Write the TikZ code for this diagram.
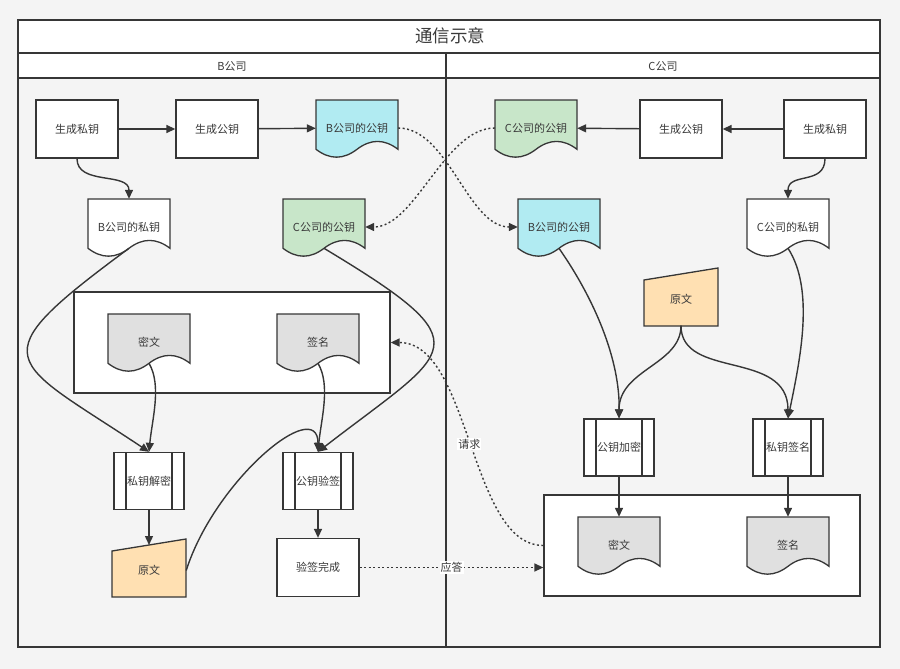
\documentclass[tikz,border=0pt]{standalone}
\usepackage{fontspec}
\setmainfont{Noto Sans CJK SC}
\usepackage{tikz}
\usetikzlibrary{arrows.meta}
\usepackage{xcolor}
\definecolor{bgc}{HTML}{F4F4F4}
\definecolor{linec}{HTML}{363636}
\definecolor{txtc}{HTML}{3A3A3A}
\definecolor{pubb}{HTML}{B1EBF2}
\definecolor{pubc}{HTML}{C8E6C9}
\definecolor{origc}{HTML}{FFE0B2}
\definecolor{secc}{HTML}{E0E0E0}

\tikzset{
  shapeline/.style={draw=linec, line width=1.3pt},
  lbl/.style={text=txtc, font=\fontsize{11}{13}\selectfont},
  box/.style={shapeline, lbl, fill=white, minimum width=82pt, minimum height=58pt},
  docbox/.style={lbl, minimum width=82pt, minimum height=56pt},
  process/.style={shapeline, lbl, fill=white, inner sep=0pt,
    minimum width=70pt, minimum height=57pt,
    path picture={\draw[draw=linec, line width=1.3pt]
      ([xshift=12pt]path picture bounding box.north west) -- ([xshift=12pt]path picture bounding box.south west)
      ([xshift=-12pt]path picture bounding box.north east) -- ([xshift=-12pt]path picture bounding box.south east);}},
  conn/.style={->, draw=linec, line width=1.4pt},
  msg/.style={conn, dash pattern=on 2pt off 2.5pt},
  msglbl/.style={lbl, fill=white, inner sep=1pt}
}

% document with wavy bottom: name, left, top, fill, text
\newcommand{\docnode}[5]{%
  \begin{scope}[shift={(#2,#3)}]
    \filldraw[shapeline, fill=#4] (0,0) -- (82,0) -- (82,49.3)
      .. controls (68.3,38.8) and (54.7,38.8) .. (41,49.3)
      .. controls (27.3,59.8) and (13.7,59.8) .. (0,49.3) -- cycle;
    \node[docbox] (#1) at (41,28) {#5};
    \coordinate (#1w) at (41,49.3);
  \end{scope}}

% manual input: name, left, top, text
\newcommand{\manualnode}[4]{%
  \begin{scope}[shift={(#2,#3)}]
    \filldraw[shapeline, fill=origc] (0,12) -- (74,0) -- (74,58) -- (0,58) -- cycle;
    \node[lbl, minimum width=74pt, minimum height=52pt] (#1) at (37,31.5) {#4};
    \coordinate (#1t) at (37,6);
  \end{scope}}

\begin{document}
\begin{tikzpicture}[x=1pt,y=-1pt,>={Triangle[length=9pt,width=8pt]}]
  \fill[bgc] (0,0) rectangle (900,669);
  \useasboundingbox (0,0) rectangle (900,669);
  %pool and lanes
  \filldraw[shapeline, fill=white] (18,20) rectangle (880,78);
  \draw[shapeline] (18,53) -- (880,53);
  \draw[shapeline, line width=1.8pt] (18,20) rectangle (880,647);
  \draw[shapeline, line width=1.6pt] (446,53) -- (446,647);
  \node[lbl, font=\fontsize{17.5}{20}\selectfont] (title) at (450,36) {通信示意};
  \node[lbl] (laneb) at (232,66) {B公司};
  \node[lbl] (lanec) at (663,66) {C公司};
  \node[box, minimum width=316pt, minimum height=101pt] (bset) at (232,342.5) {};
  \node[box, minimum width=316pt, minimum height=101pt] (cset) at (702,545.5) {};

  %B company
  \node[box] (bgenpriv) at (77,129) {生成私钥};
  \node[box] (bgenpub) at (217,129) {生成公钥};
  \docnode{bpub}{316}{100}{pubb}{B公司的公钥}
  \docnode{bpriv}{88}{199}{white}{B公司的私钥}
  \docnode{bcpub}{283}{199}{pubc}{C公司的公钥}
  \docnode{bcip}{108}{314}{secc}{密文}
  \docnode{bsig}{277}{314}{secc}{签名}
  \node[process] (bdec) at (149,481) {私钥解密};
  \node[process] (bver) at (318,481) {公钥验签};
  \manualnode{borig}{112}{539}{原文}
  \node[box] (bdone) at (318,567.5) {验签完成};

  %C company
  \docnode{cpub}{495}{100}{pubc}{C公司的公钥}
  \node[box] (cgenpub) at (681,129) {生成公钥};
  \node[box] (cgenpriv) at (825,129) {生成私钥};
  \docnode{cbpub}{518}{199}{pubb}{B公司的公钥}
  \docnode{cpriv}{747}{199}{white}{C公司的私钥}
  \manualnode{corig}{644}{268}{原文}
  \node[process] (cenc) at (619,447.5) {公钥加密};
  \node[process] (csign) at (788,447.5) {私钥签名};
  \docnode{ccip}{578}{517}{secc}{密文}
  \docnode{csig}{747}{517}{secc}{签名}

  %arrows
  \foreach \a/\b in {bgenpriv/bgenpub, bgenpub/bpub, cgenpriv/cgenpub, cgenpub/cpub}
    \draw[conn] (\a) -- (\b);
  \foreach \a/\b in {bdec/borigt, bver/bdone, cenc/ccip, csign/csig}
    \draw[conn] (\a.south) -- (\b);
  \draw[conn] (bgenpriv.south) .. controls +(0,27) and +(0,-27) .. (bpriv.north);
  \draw[conn] (cgenpriv.south) .. controls +(0,27) and +(0,-27) .. (cpriv.north);
  \draw[msg] (bpub.east) .. controls +(50,0) and +(-50,0) .. (cbpub.west);
  \draw[msg] (cpub.west) .. controls +(-50,0) and +(50,0) .. (bcpub.east);

  \draw[conn] (bprivw) .. controls (-24,361) and (8,358) .. (bdec.north);
  \draw[conn] (bcpubw) .. controls (488,347) and (452,348) .. (bver.north);
  \draw[conn] (bcipw) .. controls +(13,22) and +(3,-32) .. (bdec.north);
  \draw[conn] (bsigw) .. controls +(13,22) and +(3,-32) .. (bver.north);
  \draw[conn] (borig.east) .. controls (215,480) and (318,395) .. (bver.north);

  \draw[conn] (cbpubw) .. controls (595,300) and (620,360) .. (cenc.north);
  \draw[conn] (corig.south) .. controls +(0,39) and +(0,-49) .. (cenc.north);
  \draw[conn] (corig.south) .. controls +(0,54) and +(0,-69) .. (csign.north);
  \draw[conn] (cprivw) .. controls (815,290) and (800,360) .. (csign.north);

  %messages
  \draw[msg] (bdone.east) -- node[msglbl] {应答} (bdone.east -| cset.west);
  \draw[msg] (cset.west) .. controls +(-74,0) and +(80,0) .. node[msglbl] {请求} (bset.east);
\end{tikzpicture}
\end{document}
